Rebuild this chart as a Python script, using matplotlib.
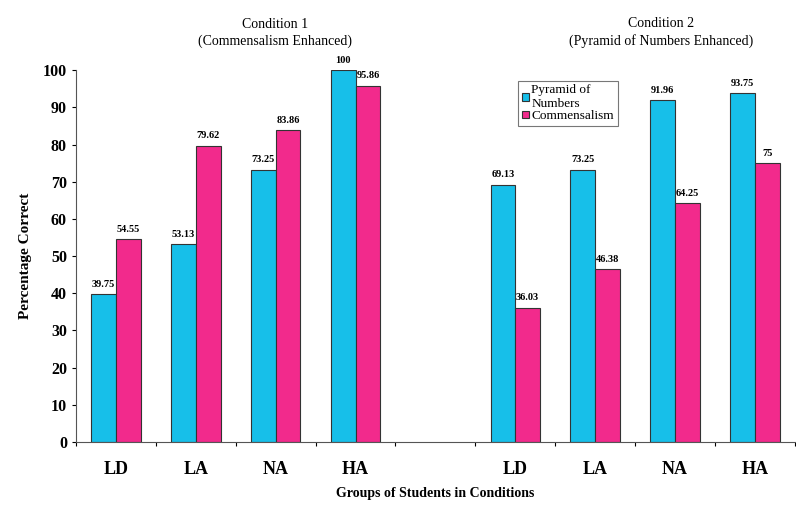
import matplotlib.pyplot as plt
import numpy as np

plt.rcParams["font.family"] = ["Liberation Serif", "DejaVu Serif"]

# categories along the x axis (one empty slot between the two conditions)
groups = ["LD", "LA", "NA", "HA", "", "LD", "LA", "NA", "HA"]
slots_c1 = [0, 1, 2, 3]
slots_c2 = [5, 6, 7, 8]

pyramid_c1 = [39.75, 53.13, 73.25, 100]
commens_c1 = [54.55, 79.62, 83.86, 95.86]
pyramid_c2 = [69.13, 73.25, 91.96, 93.75]
commens_c2 = [36.03, 46.38, 64.25, 75]

labels_pyr_c1 = ["39.75", "53.13", "73.25", "100"]
labels_com_c1 = ["54.55", "79.62", "83.86", "95.86"]
labels_pyr_c2 = ["69.13", "73.25", "91.96", "93.75"]
labels_com_c2 = ["36.03", "46.38", "64.25", "75"]

BLUE = "#17bfe9"
PINK = "#f22a8c"
W = 0.31

fig = plt.figure(figsize=(7.96, 5.05), dpi=100)
ax = fig.add_axes([0.0955, 0.125, 0.903, 0.736])

x1 = np.array(slots_c1)
x2 = np.array(slots_c2)
b1 = ax.bar(x1 - W / 2, pyramid_c1, W, color=BLUE, edgecolor="#333333", linewidth=0.8,
            label="Pyramid of\nNumbers")
b2 = ax.bar(x1 + W / 2, commens_c1, W, color=PINK, edgecolor="#333333", linewidth=0.8,
            label="Commensalism")
b3 = ax.bar(x2 - W / 2, pyramid_c2, W, color=BLUE, edgecolor="#333333", linewidth=0.8)
b4 = ax.bar(x2 + W / 2, commens_c2, W, color=PINK, edgecolor="#333333", linewidth=0.8)

for bars, labs in [(b1, labels_pyr_c1), (b2, labels_com_c1), (b3, labels_pyr_c2), (b4, labels_com_c2)]:
    ax.bar_label(bars, labels=labs, padding=4, fontsize=7.5, fontweight="bold")

ax.set_xlim(-0.5, len(groups) - 0.5)
ax.set_ylim(0, 100)
ax.set_yticks(np.arange(0, 101, 10))
ax.tick_params(axis="y", labelsize=11.5, length=3, direction="out")
for t in ax.get_yticklabels():
    t.set_fontweight("bold")

ax.set_xticks(np.arange(-0.5, len(groups), 1))
ax.set_xticklabels([])
ax.tick_params(axis="x", which="major", length=3)
ax.set_xticks(np.arange(len(groups)), minor=True)
ax.set_xticklabels(groups, minor=True, fontsize=13, fontweight="bold")
ax.tick_params(axis="x", which="minor", length=0, pad=14)

for s in ["top", "right"]:
    ax.spines[s].set_visible(False)
for s in ["left", "bottom"]:
    ax.spines[s].set_color("#555555")

ax.set_ylabel("Percentage Correct", fontsize=11, fontweight="bold", labelpad=8)
ax.set_xlabel("Groups of Students in Conditions", fontsize=10, fontweight="bold", labelpad=6)

fig.text(0.345, 0.935, "Condition 1\n(Commensalism Enhanced)", ha="center", va="center",
         fontsize=10, linespacing=1.35)
fig.text(0.83, 0.935, "Condition 2\n(Pyramid of Numbers Enhanced)", ha="center", va="center",
         fontsize=10, linespacing=1.35)

leg = ax.legend(loc="upper left", bbox_to_anchor=(0.606, 0.99), fontsize=9.5,
                handlelength=0.5, handleheight=0.5, handletextpad=0.2,
                labelspacing=0.0, borderpad=0.3, fancybox=False, edgecolor="#555555")
leg.get_frame().set_linewidth(0.8)

fig.savefig("out.png", dpi=100)
